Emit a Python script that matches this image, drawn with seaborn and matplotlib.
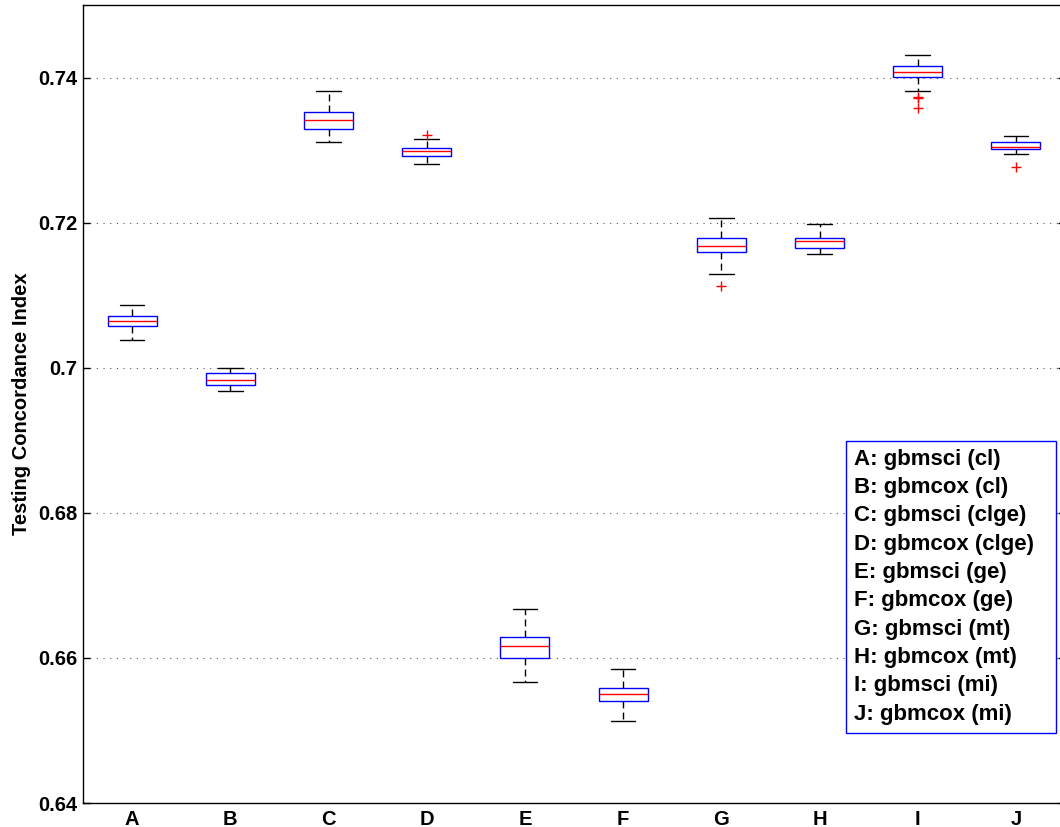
import numpy as np
import pandas as pd
import matplotlib
matplotlib.use("Agg")
import matplotlib.pyplot as plt
from matplotlib.lines import Line2D
from matplotlib.ticker import FormatStrFormatter
import seaborn as sns

# Model labels and their descriptions
labels = ["A", "B", "C", "D", "E", "F", "G", "H", "I", "J"]
names = ["gbmsci (cl)", "gbmcox (cl)", "gbmsci (clge)", "gbmcox (clge)",
         "gbmsci (ge)", "gbmcox (ge)", "gbmsci (mt)", "gbmcox (mt)",
         "gbmsci (mi)", "gbmcox (mi)"]

# Five-number summaries of the testing concordance index per model
whisker_lo = [0.70380, 0.69673, 0.73113, 0.72810, 0.65669,
              0.65135, 0.71290, 0.71570, 0.73812, 0.72943]
quart_1 = [0.70578, 0.69766, 0.73292, 0.72924, 0.66004,
           0.65405, 0.71589, 0.71652, 0.74006, 0.73012]
median = [0.70648, 0.69834, 0.73416, 0.72993, 0.66161,
          0.65499, 0.71680, 0.71740, 0.74074, 0.73046]
quart_3 = [0.70715, 0.69921, 0.73521, 0.73030, 0.66294,
           0.65592, 0.71795, 0.71790, 0.74166, 0.73117]
whisker_hi = [0.70859, 0.69995, 0.73811, 0.73149, 0.66672,
              0.65844, 0.72062, 0.71979, 0.74309, 0.73200]
outliers_lo = [[], [], [], [], [], [], [0.71124], [],
               [0.73586, 0.73724, 0.73738], [0.72772]]
outliers_hi = [[], [], [], [0.73210], [], [], [], [], [], []]


def observations(lo_out, wlo, q1, q2, q3, whi, hi_out):
    """Sample whose linear-interpolated quartiles equal q1, q2, q3."""
    m = max(len(lo_out), len(hi_out)) + 1
    vals = list(lo_out) + [wlo] + [q1] * (m - len(lo_out))
    vals += [q2] * m
    vals += [q3] * m
    vals += [q3] * (m - 1 - len(hi_out)) + [whi] + list(hi_out)
    return vals


rows = []
for i, lab in enumerate(labels):
    for v in observations(outliers_lo[i], whisker_lo[i], quart_1[i], median[i],
                          quart_3[i], whisker_hi[i], outliers_hi[i]):
        rows.append((lab, v))
df = pd.DataFrame(rows, columns=["model", "cindex"])

sns.set_theme(style="white")
plt.rcParams["font.family"] = ["Liberation Sans", "DejaVu Sans"]
plt.rcParams["font.weight"] = "bold"
plt.rcParams["axes.labelweight"] = "bold"
plt.rcParams["text.color"] = "black"
plt.rcParams["axes.labelcolor"] = "black"
plt.rcParams["xtick.color"] = "black"
plt.rcParams["ytick.color"] = "black"

W, H = 1060, 827
fig = plt.figure(figsize=(W / 100, H / 100), dpi=100)
ax = fig.add_axes([83 / W, 24 / H, 982 / W, 798 / H])

sns.boxplot(
    data=df, x="model", y="cindex", order=labels, ax=ax, width=0.5,
    linewidth=1.0,
    boxprops=dict(facecolor="white", edgecolor="#0000ff", linewidth=1.0),
    medianprops=dict(color="#ff0000", linewidth=1.0),
    whiskerprops=dict(color="black", linestyle=(0, (5, 3)), linewidth=1.0),
    capprops=dict(color="black", linewidth=1.0),
    flierprops=dict(marker="+", markersize=7, markeredgecolor="#ff0000",
                    markerfacecolor="#ff0000", markeredgewidth=1.0),
)

ax.set_xlim(-0.5, 9.5)
ax.set_ylim(0.64, 0.75)
ax.set_yticks(np.arange(0.64, 0.7401, 0.02))
ax.yaxis.set_major_formatter(FormatStrFormatter("%g"))
ax.yaxis.grid(True, linestyle=(0, (1, 5)), color="#555555", linewidth=0.8)
ax.set_axisbelow(True)

for side in ["left", "right", "top", "bottom"]:
    ax.spines[side].set_visible(True)
    ax.spines[side].set_color("black")
    ax.spines[side].set_linewidth(1.0)

ax.tick_params(axis="y", which="major", direction="in", length=5, width=1.0,
               left=True, right=True, labelsize=14.5, pad=4,
               colors="black", labelcolor="black")
ax.tick_params(axis="x", which="major", length=0, labelsize=14.5, pad=5,
               colors="black", labelcolor="black")
for t in ax.get_xticklabels() + ax.get_yticklabels():
    t.set_fontweight("bold")
    t.set_color("black")

ax.set_xlabel("")
ax.set_ylabel("Testing Concordance Index", fontsize=14.5, fontweight="bold",
              labelpad=5, color="black")

handles = [Line2D([], [], linestyle="none") for _ in labels]
legend_text = [f"{lab}: {nm}" for lab, nm in zip(labels, names)]
leg = ax.legend(
    handles, legend_text, loc="upper left",
    bbox_to_anchor=(846 / W, 1 - 441 / H, 210 / W, 0.0),
    bbox_transform=fig.transFigure, mode="expand", borderaxespad=0,
    handlelength=0, handletextpad=0, borderpad=0.35, labelspacing=0.33,
    frameon=True, fancybox=False, prop=dict(size=16, weight="bold"),
    labelcolor="black",
)
leg.get_frame().set_edgecolor("#0000ff")
leg.get_frame().set_linewidth(1.0)
leg.get_frame().set_facecolor("white")
leg.get_frame().set_alpha(1.0)

fig.savefig("out.png", dpi=100)
